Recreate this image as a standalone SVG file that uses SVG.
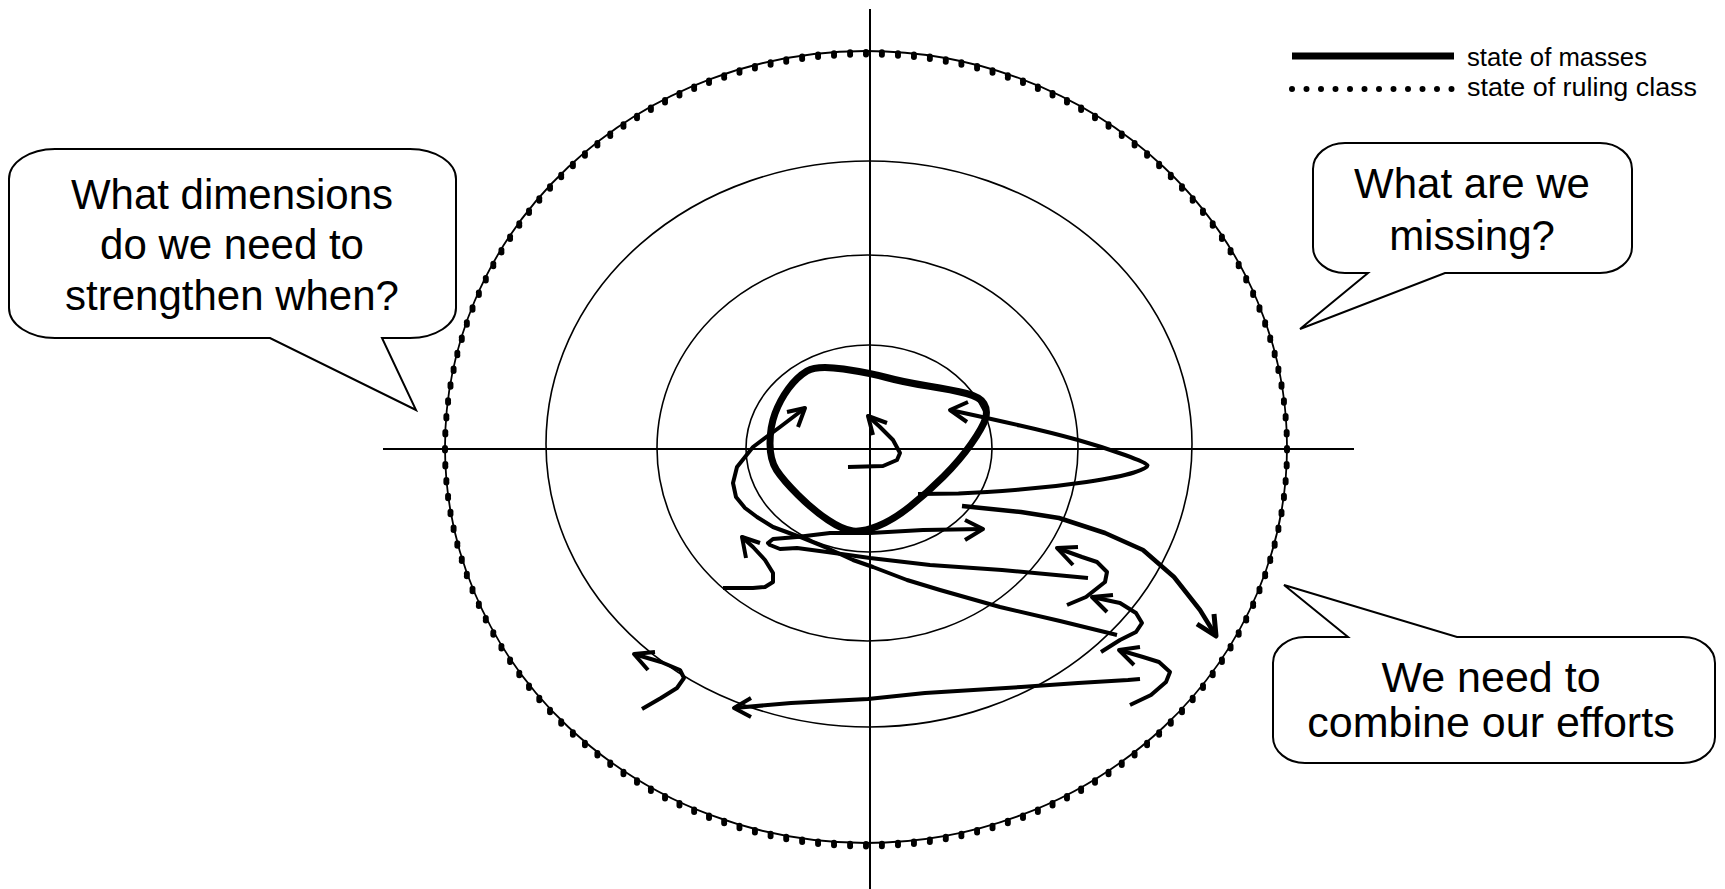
<svg xmlns="http://www.w3.org/2000/svg" width="1725" height="889" viewBox="0 0 1725 889">
<style>
.ax{stroke:#000;stroke-width:2;fill:none}
.ring{stroke:#000;stroke-width:1.6;fill:none}
.dotline{stroke:#000;stroke-width:1.8;fill:none}
.dots{stroke:#000;stroke-width:6;stroke-linecap:round;stroke-dasharray:0 16;fill:none}
.mass{stroke:#000;stroke-width:7;fill:none;stroke-linejoin:round;stroke-linecap:round}
.tr{stroke:#000;stroke-width:4;fill:none;stroke-linejoin:round;stroke-linecap:butt}
.bub{fill:#fff;stroke:#000;stroke-width:2}
.bt{font-family:"Liberation Sans",Arial,sans-serif;font-size:42px;fill:#000;text-anchor:middle}
.lt{font-family:"Liberation Sans",Arial,sans-serif;font-size:25px;fill:#000}
</style>
<rect width="1725" height="889" fill="#fff"/>
<g id="grid">
<line class="ax" x1="870" y1="9" x2="870" y2="889"/>
<line class="ax" x1="383" y1="449" x2="1354" y2="449"/>
<ellipse class="ring" cx="869" cy="448.5" rx="123" ry="103.5"/>
<ellipse class="ring" cx="867.5" cy="448" rx="210.5" ry="193"/>
<ellipse class="ring" cx="869" cy="444" rx="323" ry="283"/>
</g>
<g id="ruling-class">
<ellipse class="dotline" cx="866" cy="447" rx="421" ry="396"/>
<ellipse class="dots" cx="866" cy="448" rx="421" ry="396" pathLength="2560"/>
<ellipse class="dots" cx="866" cy="450.5" rx="421" ry="396" pathLength="2560"/>
</g>
<g id="masses">
<path class="mass" d="M843.5,369 Q870,373 886.5,377.5 Q903,382 928,386 Q953,390 966.5,393.5 Q980,397 984,403.5 Q988,410 985.5,418.5 Q983,427 971.5,443.5 Q960,460 943.5,476.5 Q927,493 910,506.5 Q893,520 878,526 Q863,532 853,531 Q843,530 828,520 Q813,510 798,495 Q783,480 776.5,470 Q770,460 770,443.5 Q770,427 775,413.5 Q780,400 788.5,388.5 Q797,377 807,371 Q817,365 843.5,369 Z"/>
</g>
<g id="connectors">
<path class="tr" d="M950,410 L968.5,414 Q987,418 1020,425.5 Q1053,433 1078,440 Q1103,447 1125,455 Q1147,463 1147.5,465.5 Q1148,468 1134,472.5 Q1120,477 1086.5,482 Q1053,487 1020,489.5 Q987,492 958.5,493.5 L918,494"/>
<path class="tr" d="M968,402 L950,410 L967,422"/>
<polyline class="tr" points="805,408 780,427 753,447 737,467 733,483 736,497 745,508 757,517 773,527 800,537 827,548 853,560 873,567 907,580 940,590 1000,607 1060,621 1117,635"/>
<path class="tr" d="M787,412 L805,408 L798,427"/>
<polyline class="tr" points="1088,578 1002,570 930,565 870,558 827,552 797,548 780,549 770,545 768,543 773,539 797,537 830,533 870,533 923,530 983,529"/>
<path class="tr" d="M965,520 L983,529 L965,540"/>
<polyline class="tr" style="stroke-width:4.5" points="962,506 1021,512 1059,518 1105,533 1143,550 1174,577 1200,610 1216,636"/>
<path class="tr" style="stroke-width:5" d="M1197,624 L1216,636 L1214,614"/>
<polyline class="tr" points="1057,548 1082,557 1097,562 1107,572 1105,582 1086,597 1067,605"/>
<path class="tr" d="M1078,547 L1057,548 L1073,565"/>
<polyline class="tr" points="1092,597 1120,603 1136,613 1142,623 1136,632 1120,640 1101,652"/>
<path class="tr" d="M1113,595 L1092,597 L1107,612"/>
<polyline class="tr" points="1119,650 1143,657 1159,662 1170,672 1166,682 1151,695 1130,705"/>
<path class="tr" d="M1140,647 L1119,650 L1134,665"/>
<polyline class="tr" points="1140,679 1128,680 1078,683 1021,687 925,693 868,699 791,703 734,708"/>
<path class="tr" d="M751,698 L734,708 L751,717"/>
<polyline class="tr" points="634,654 661,662 680,670 684,678 677,688 661,698 642,709"/>
<path class="tr" d="M655,652 L634,654 L648,670"/>
<polyline class="tr" points="742,537 753,547 765,560 773,573 773,582 765,587 753,588 723,588"/>
<path class="tr" d="M760,543 L742,537 L746,558"/>
<polyline class="tr" points="848,467 883,466 897,460 900,453 893,440 880,427 868,416"/>
<path class="tr" d="M887,423 L868,416 L873,435"/>
</g>
<g id="bubble-dimensions">
<path class="bub" d="M55,149 H410 A46,30 0 0 1 456,179 V308 A46,30 0 0 1 410,338 H382 L416,410 L270,338 H55 A46,30 0 0 1 9,308 V179 A46,30 0 0 1 55,149 Z"/>
<text class="bt" x="232" y="209">What dimensions</text>
<text class="bt" x="232" y="259">do we need to</text>
<text class="bt" x="232" y="310">strengthen when?</text>
</g>
<g id="bubble-missing">
<path class="bub" d="M1345,143 H1600 A32,26 0 0 1 1632,169 V247 A32,26 0 0 1 1600,273 H1445 L1300,329 L1368,273 H1345 A32,26 0 0 1 1313,247 V169 A32,26 0 0 1 1345,143 Z"/>
<text class="bt" x="1472" y="198">What are we</text>
<text class="bt" x="1472" y="250">missing?</text>
</g>
<g id="bubble-combine">
<path class="bub" d="M1305,637 H1348 L1284,585 L1457,637 H1683 A32,26 0 0 1 1715,663 V737 A32,26 0 0 1 1683,763 H1305 A32,26 0 0 1 1273,737 V663 A32,26 0 0 1 1305,637 Z"/>
<text class="bt" x="1491" y="692" style="font-size:43px">We need to</text>
<text class="bt" x="1491" y="737" style="font-size:43px">combine our efforts</text>
</g>
<g id="legend">
<line x1="1292" y1="56" x2="1454" y2="56" stroke="#000" stroke-width="7"/>
<line x1="1292" y1="89" x2="1452" y2="89" stroke="#000" stroke-width="6" stroke-linecap="round" stroke-dasharray="0 14.5"/>
<text class="lt" x="1467" y="66" textLength="180" lengthAdjust="spacingAndGlyphs">state of masses</text>
<text class="lt" x="1467" y="96" textLength="230" lengthAdjust="spacingAndGlyphs">state of ruling class</text>
</g>
</svg>
